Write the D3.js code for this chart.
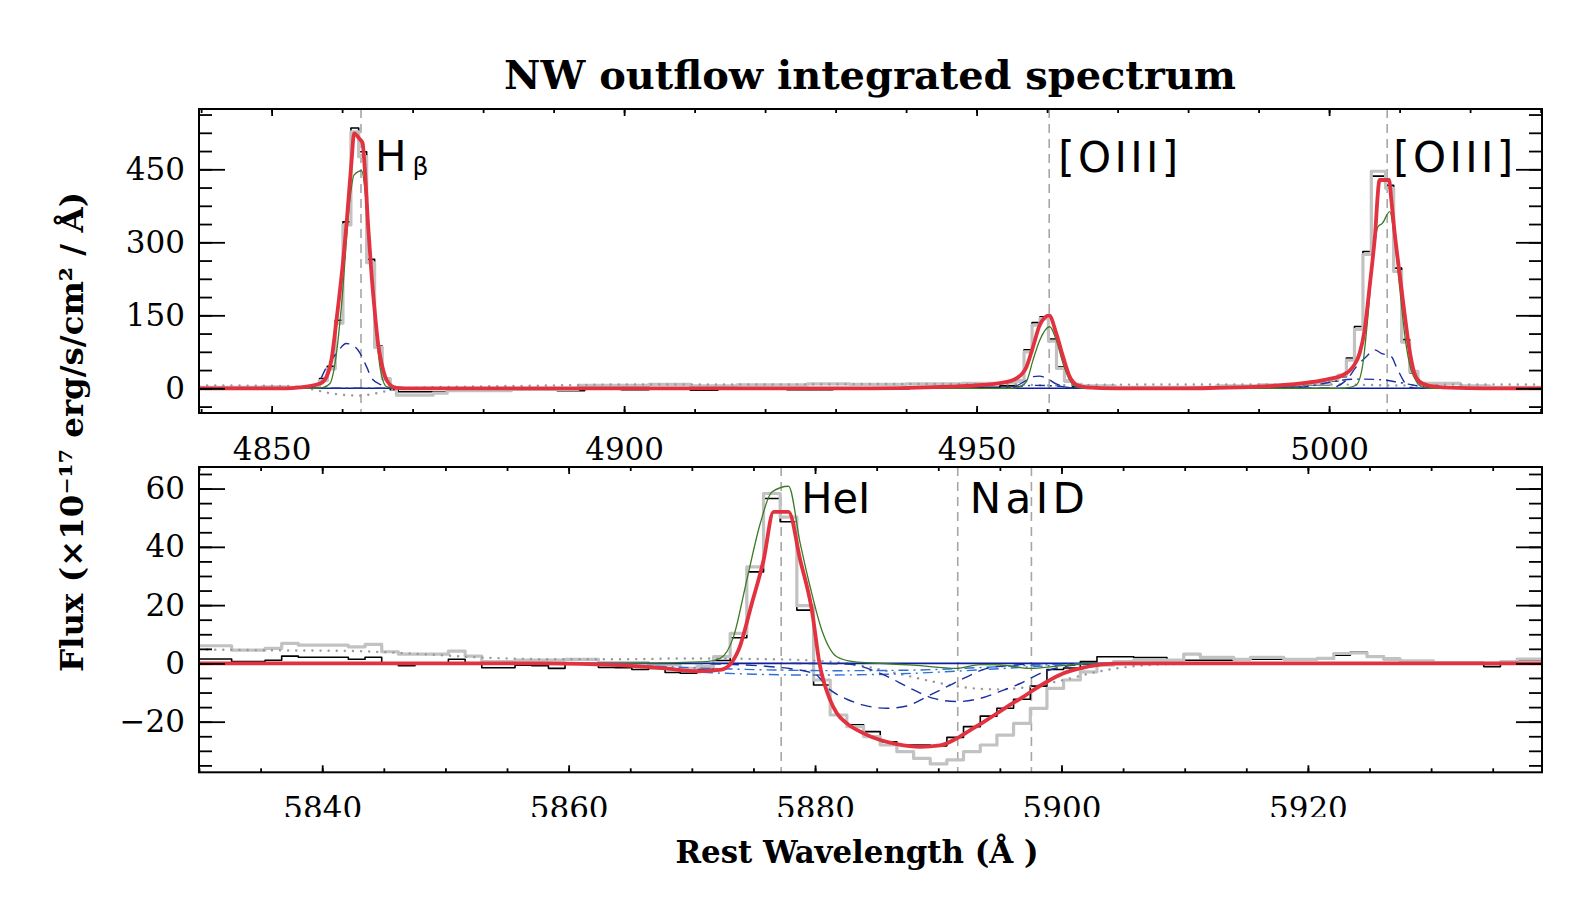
<!DOCTYPE html>
<html>
<head>
<meta charset="utf-8">
<script src="https://cdn.jsdelivr.net/npm/d3@7"></script>
<style>
  body { margin: 0; background: #fff; }
  .axis path { display: none; }
  .axis line { stroke: #000; stroke-width: 1.8; }
  .axis text { font-family: "DejaVu Serif", serif; font-size: 31px; fill: #000; }
  .lbl { font-family: "DejaVu Serif Condensed", "DejaVu Serif", serif; font-weight: bold; fill: #000; }
  .ann { font-family: "DejaVu Sans", sans-serif; font-size: 42px; fill: #000; }
</style>
</head>
<body>
<svg id="chart" width="1584" height="918"></svg>
<script>
// ---- tick labels ----
const topXTicks = [4850, 4900, 4950, 5000];
const topYTicks = [0, 150, 300, 450];
const botXTicks = [5840, 5860, 5880, 5900, 5920];
const botYTicks = [-20, 0, 20, 40, 60];

// ---- line markers (rest wavelength, A) ----
const topLines = [4862.68, 4960.30, 5008.24];
const topLineNames = ['H', '[OIII]', '[OIII]'];
const botLines = [5877.25, 5891.58, 5897.56];
const botLineNames = ['HeI', 'NaID', ''];

// ---- top panel: H-beta / [OIII] ----
// histograms: [left edge of bin, flux]
const topGray = [
  [4839.7, 2], [4848.5, 3], [4852.0, 2], [4855.7, 6], [4856.8, 16], [4857.9, 40],
  [4859.03, 134], [4860.12, 336], [4861.25, 527], [4862.35, 476], [4863.48, 258], [4864.61, 84],
  [4865.69, 20], [4866.83, 2], [4867.7, -14], [4872.9, -10], [4874.9, -5], [4884.0, -2],
  [4893.5, 6], [4903.5, 8], [4909.4, 5], [4916.0, 7], [4926.0, 9], [4932.0, 8], [4940.0, 9],
  [4948.0, 10], [4953.3, 11], [4955.6, 16], [4956.73, 75], [4957.87, 130], [4959.0, 143],
  [4960.19, 97], [4961.33, 41], [4962.46, 16], [4963.6, 8], [4964.9, 5], [4969.7, 2],
  [4984.0, 5], [4990.0, 7], [4996.0, 10], [5000.1, 18], [5001.26, 27], [5002.45, 58],
  [5003.6, 121], [5004.8, 275], [5005.99, 446], [5006.93, 446], [5008.02, 411], [5009.16, 240],
  [5010.29, 95], [5011.43, 35], [5012.6, 10], [5018.6, 5], [5022.8, 2], [5030.2, 2]
];
const topBlack = [
  [4839.7, 0], [4844.0, -1], [4848.5, 1], [4852.0, 0], [4855.7, 4], [4856.8, 20], [4857.9, 45],
  [4859.03, 140], [4860.12, 342], [4861.25, 535], [4862.35, 486], [4863.48, 265], [4864.61, 87],
  [4865.69, 18], [4866.83, -3], [4867.96, -7], [4874.9, -3], [4884.0, -1], [4890.5, -5],
  [4894.4, 0], [4899.6, -3], [4903.5, -1], [4909.4, -4], [4913.3, -1], [4923.1, -3],
  [4929.6, -1], [4940.5, 0], [4948.0, 2], [4953.3, 5], [4955.6, 14], [4956.73, 79],
  [4957.87, 135], [4959.0, 147], [4960.19, 101], [4961.33, 44], [4962.46, 14], [4963.6, 3],
  [4964.9, 1], [4969.7, -1], [4978.0, 0], [4984.0, 1], [4987.0, 3.5], [4996.0, 7.5],
  [5000.1, 15], [5001.26, 24], [5002.45, 62], [5003.6, 127], [5004.8, 281], [5005.99, 436],
  [5006.93, 436], [5008.02, 417], [5009.16, 247], [5010.29, 100], [5011.43, 32], [5012.6, 10],
  [5013.79, 3], [5018.6, 0], [5022.8, -1], [5030.2, -1]
];
// model curves: [wavelength, flux]
const topFit = [
  [4839.7, 0], [4852.0, 0], [4854.0, 2], [4856.9, 10], [4857.8, 24], [4858.5, 60], [4859.2, 140],
  [4860.2, 270], [4860.65, 342], [4861.35, 469], [4861.7, 524], [4862.5, 512], [4862.9, 504],
  [4863.2, 455], [4863.7, 332], [4864.2, 229], [4864.7, 147], [4865.1, 92], [4865.6, 51],
  [4866.1, 24], [4866.8, 7], [4867.7, 1], [4869.0, 0], [4935.0, 0], [4939.1, 0.5], [4946.2, 3.4],
  [4950.9, 6.8], [4953.75, 11.6], [4955.65, 20.5], [4957.07, 44], [4958.0, 85], [4958.96, 130],
  [4960.28, 150], [4961.3, 113], [4962.26, 65], [4963.2, 24], [4964.2, 7], [4965.6, 2],
  [4969.8, 0], [4980.0, 0], [4984.0, 1], [4991.0, 4], [4996.0, 10], [4999.6, 18], [5001.97, 27.4],
  [5003.4, 44.4], [5004.33, 71.8], [5005.04, 120], [5005.75, 209], [5006.46, 305], [5007.17, 428],
  [5008.5, 428], [5008.83, 387], [5009.3, 319], [5010.0, 236], [5010.7, 154], [5011.4, 79],
  [5012.1, 31], [5012.8, 14], [5014.2, 5], [5017.1, 1.4], [5022.0, 0], [5030.2, 0]
];
const topNarrow = [
  [4839.7, 0], [4856.0, 0], [4857.33, 2], [4858.28, 10], [4859.2, 72], [4859.9, 168],
  [4861.1, 387], [4861.68, 438], [4862.77, 447], [4863.2, 414], [4863.95, 264], [4864.65, 147],
  [4865.37, 44], [4866.3, 3.4], [4867.5, 0], [4955.0, 0], [4956.12, 3.4], [4957.07, 13.7],
  [4958.0, 58], [4958.96, 99], [4960.38, 126.5], [4961.3, 99], [4962.26, 51], [4963.2, 17],
  [4964.2, 2], [4965.5, 0], [5001.5, 0], [5002.92, 2], [5003.86, 6.8], [5004.8, 51], [5005.5, 147],
  [5006.2, 264], [5006.93, 332], [5007.55, 339], [5008.6, 363], [5009.3, 305], [5010.0, 209],
  [5010.7, 113], [5011.4, 51], [5012.4, 14], [5013.3, 2], [5014.5, 0], [5030.2, 0]
];
const topBroad = [
  [4839.7, 0], [4855.0, 0], [4856.4, 7], [4857.8, 44], [4859.2, 72], [4860.6, 92], [4862.06, 82],
  [4863.48, 44], [4864.2, 20.5], [4865.6, 6.8], [4866.8, 1], [4868.0, 0], [4954.0, 0],
  [4955.5, 4], [4956.8, 14], [4958.0, 24], [4958.9, 25], [4960.0, 20], [4961.3, 9], [4962.5, 3],
  [4964.0, 0], [5000.0, 0], [5001.03, 3.4], [5002.45, 17], [5003.86, 44], [5005.27, 65],
  [5006.46, 79], [5007.4, 72], [5008.83, 65], [5009.55, 44], [5010.5, 17], [5011.2, 3.4],
  [5012.5, 0], [5030.2, 0]
];
const topWing = [
  [4839.7, 0], [4950.0, 0], [4955.0, 2], [4958.0, 6], [4961.0, 5], [4964.0, 1], [4968.0, 0],
  [4992.0, 0], [4997.0, 4], [5001.0, 15], [5004.0, 19], [5007.0, 18], [5010.0, 12], [5013.0, 4],
  [5017.0, 1], [5022.0, 0], [5030.2, 0]
];
const topCont = [
  [4839.7, 6], [4852.0, 5], [4855.4, -1], [4858.3, -10], [4860.6, -14], [4862.5, -15],
  [4864.9, -10], [4866.8, -4], [4868.6, 0], [4872.0, 2], [4880.0, 4], [4890.0, 6], [4900.0, 8],
  [4920.0, 8], [4940.0, 9], [4955.0, 8], [4960.0, 6], [4965.0, 7], [4980.0, 8], [5000.0, 8],
  [5010.0, 6], [5020.0, 8], [5030.2, 8]
];

// ---- bottom panel: HeI / NaID ----
const botGray = [
  [5830.0, 6.05], [5832.65, 4.57], [5835.36, 5.14], [5836.71, 6.86], [5838.06, 6.3],
  [5842.12, 5.7], [5843.48, 6.5], [5844.83, 4.0], [5846.18, 3.2], [5850.24, 4.2], [5851.6, 2.5],
  [5852.95, 0.6], [5855.65, 1.1], [5859.71, 1.4], [5862.42, 0.3], [5866.48, -0.5],
  [5869.05, -1.7], [5870.4, -1.1], [5871.76, 2.3], [5873.11, 10.3], [5874.46, 33.1],
  [5875.82, 58.3], [5877.17, 50.2], [5878.52, 19.8], [5879.88, -5.7], [5881.23, -17.7],
  [5882.58, -21.7], [5883.94, -25.1], [5885.29, -28], [5886.64, -30.3], [5888.0, -32.6],
  [5889.35, -34.5], [5890.7, -33.1], [5892.05, -30.3], [5893.41, -28], [5894.76, -24.6],
  [5896.11, -20.6], [5897.47, -15.4], [5898.82, -8.6], [5900.17, -5.7], [5901.53, -2.9],
  [5902.88, -0.6], [5904.23, 0.6], [5905.86, 1.1], [5909.92, 3.2], [5911.27, 2.05],
  [5913.98, 1.4], [5915.33, 2.05], [5918.04, 1.4], [5920.74, 1.7], [5922.1, 3.4], [5923.45, 3.6],
  [5924.8, 2.3], [5926.15, 1.4], [5927.5, 0.9], [5930.2, 0.3], [5932.92, 0], [5935.63, 0.6],
  [5936.98, 1.5], [5939.0, 1.5]
];
const botBlack = [
  [5830.0, 1.5], [5832.65, 0.6], [5835.36, 1.1], [5836.71, 2.5], [5838.06, 2.1], [5842.12, 1.4],
  [5843.48, 2.1], [5844.83, 0.2], [5846.18, -0.8], [5847.53, 0.2], [5850.24, 1.4], [5851.6, 0.2],
  [5852.95, -1.5], [5855.65, -0.6], [5857.0, -0.8], [5858.36, -1.7], [5859.71, -0.2],
  [5862.42, -1.4], [5863.77, -1.5], [5865.13, -2.1], [5866.48, -1.7], [5867.83, -3.1],
  [5869.05, -3.4], [5870.4, -2.0], [5871.76, 1.0], [5873.11, 8.8], [5874.46, 31.4],
  [5875.82, 56.6], [5877.17, 48.6], [5878.52, 18.3], [5879.88, -7.4], [5881.23, -17.7],
  [5882.58, -21.1], [5883.94, -23.4], [5885.29, -26.9], [5886.64, -28], [5888.0, -28],
  [5889.35, -28.3], [5890.7, -25.4], [5892.05, -21.7], [5893.41, -18.1], [5894.76, -15.4],
  [5896.11, -12.3], [5897.47, -7.8], [5898.82, -2.1], [5900.17, -1.6], [5901.53, 0.6],
  [5902.88, 2.3], [5905.86, 2.05], [5908.56, 1.1], [5913.98, 1.4], [5922.1, 2.85],
  [5923.45, 3.9], [5924.8, 2.5], [5926.15, 1.7], [5927.5, 0.9], [5930.2, 0.3], [5934.27, -1.1],
  [5935.63, 0.3], [5936.98, 1.1], [5939.0, 1.1]
];
const botFit = [
  [5830.0, 0], [5858.0, 0], [5864.07, -0.6], [5867.8, -1.7], [5870.4, -2.7], [5872.43, -2.1],
  [5873.79, 4.6], [5874.87, 20.6], [5875.82, 35.4], [5876.63, 52], [5877.85, 52], [5878.8, 35.4],
  [5879.74, 18.3], [5880.36, 0], [5881.23, -12.6], [5881.77, -17.1], [5882.58, -20.6],
  [5883.94, -24], [5885.29, -26.3], [5886.64, -27.7], [5888.54, -28.6], [5890.16, -28.1],
  [5891.51, -25.7], [5892.6, -22.9], [5893.95, -19.4], [5895.57, -14.9], [5896.93, -11.4],
  [5897.74, -9.1], [5898.82, -6.3], [5900.17, -3.4], [5901.53, -1.7], [5902.88, -0.6],
  [5904.23, -0.1], [5910.0, 0], [5939.0, 0]
];
const botNarrow = [
  [5830.0, 0], [5865.0, 0], [5871.2, 0.6], [5872.3, 1.7], [5873.38, 9.1], [5874.46, 28.6],
  [5875.55, 48], [5876.49, 58.8], [5877.85, 60.8], [5878.8, 41.1], [5879.6, 26.3],
  [5880.55, 11.4], [5881.77, 2.3], [5883.12, 0.6], [5885.29, 0], [5888.0, -0.6], [5891.51, -1.7],
  [5893.41, -0.4], [5895.0, -0.5], [5897.5, -1.7], [5899.5, -1.0], [5901.5, -0.2], [5903.0, 0],
  [5939.0, 0]
];
const botAbsBlue = [
  [5870.0, 0], [5876.0, -1], [5879.88, -3.4], [5881.23, -9.1], [5882.58, -12.3],
  [5883.94, -14.3], [5885.83, -15.4], [5887.45, -14.6], [5889.08, -11.4], [5890.7, -8],
  [5892.33, -4.6], [5893.95, -1.7], [5896.11, -0.6], [5899.0, 0]
];
const botAbsRed = [
  [5878.0, 0], [5882.58, -0.2], [5885.29, -3.4], [5888.0, -9.1], [5889.62, -12], [5891.51, -13.1],
  [5893.41, -12], [5895.03, -9.6], [5896.65, -6.9], [5898.28, -3.4], [5900.17, -1.1],
  [5902.88, -0.2], [5906.0, 0]
];
const botWide1 = [
  [5860.0, 0], [5866.0, -0.8], [5870.0, -1.5], [5876.0, -2.2], [5882.0, -2.5], [5888.0, -2.3],
  [5893.0, -1.5], [5898.0, -0.6], [5903.0, 0]
];
const botWide2 = [
  [5862.0, 0], [5866.0, -1.2], [5870.0, -2.8], [5875.0, -3.7], [5880.0, -4], [5885.0, -3.8],
  [5890.0, -3], [5895.0, -1.8], [5900.0, -0.6], [5905.0, 0]
];
const botCont = [
  [5830.0, 4.8], [5836.0, 4.5], [5842.0, 4.3], [5848.0, 3.2], [5853.0, 2], [5860.0, 1.4],
  [5866.0, 1.5], [5869.0, 1.7], [5877.0, 1.4], [5882.6, 0], [5886.64, -3.4], [5889.62, -6.3],
  [5892.05, -8.2], [5894.76, -8.9], [5897.47, -8], [5900.17, -5.7], [5902.88, -2.9],
  [5905.59, -1.1], [5909.65, -0.2], [5915.0, 0], [5939.0, 0]
];

// ---- styles ----
const style = {
  gray:   { stroke: '#c2c2c2', width: 3.2 },
  cont:   { stroke: '#9a9a9a', width: 2.4, dash: '0.1,8', cap: 'round' },
  black:  { stroke: '#000', width: 1.6 },
  zero:   { stroke: '#0c1f9c', width: 1.6 },
  wing:   { stroke: '#1a2fa0', width: 1.4, dash: '10,5,2,5' },
  wideB:  { stroke: '#2f6fd6', width: 1.4, dash: '10,5,2,5' },
  broad:  { stroke: '#1a2fa0', width: 1.4, dash: '11,7' },
  narrow: { stroke: '#3c7a26', width: 1.3 },
  fit:    { stroke: '#e2323f', width: 3.8 }
};

const svg = d3.select('#chart');
svg.append('rect').attr('width', 1584).attr('height', 918).attr('fill', '#fff');
const defs = svg.append('defs');

const L = 199, R = 1542;

const panels = [
  {
    id: 'top', top: 109, bottom: 413, xDomain: [4839.7, 5030.2], yDomain: [-50.7, 573.9],
    xTicks: topXTicks, xMinor: d3.range(4840, 5031, 10), yTicks: topYTicks, yMinor: d3.range(-37.5, 570, 37.5),
    lines: topLines,
    series: [
      [topBlack, 'step', 'black'], [topGray, 'step', 'gray'], [topCont, 'curve', 'cont'],
      [[[4839.7, 0], [5030.2, 0]], 'curve', 'zero'], [topWing, 'curve', 'wing'],
      [topBroad, 'curve', 'broad'], [topNarrow, 'curve', 'narrow'], [topFit, 'curve', 'fit']
    ]
  },
  {
    id: 'bot', top: 467, bottom: 772.3, xDomain: [5830, 5939], yDomain: [-37.37, 67.4],
    xTicks: botXTicks, xMinor: d3.range(5830, 5940, 5), yTicks: botYTicks, yMinor: d3.range(-35, 67, 5),
    lines: botLines, clipLabels: 817,
    series: [
      [botBlack, 'step', 'black'], [botGray, 'step', 'gray'], [botCont, 'curve', 'cont'],
      [[[5830, 0], [5939, 0]], 'curve', 'zero'], [botWide1, 'curve', 'wideB'], [botWide2, 'curve', 'wideB'],
      [botAbsBlue, 'curve', 'broad'], [botAbsRed, 'curve', 'broad'], [botNarrow, 'curve', 'narrow'],
      [botFit, 'curve', 'fit']
    ]
  }
];

panels.forEach(p => {
  const x = d3.scaleLinear().domain(p.xDomain).range([L, R]);
  const y = d3.scaleLinear().domain(p.yDomain).range([p.bottom, p.top]);

  defs.append('clipPath').attr('id', 'clip-' + p.id)
    .append('rect').attr('x', L).attr('y', p.top).attr('width', R - L).attr('height', p.bottom - p.top);
  const plot = svg.append('g').attr('clip-path', `url(#clip-${p.id})`);

  // marker lines
  plot.selectAll('line.mark').data(p.lines).join('line')
    .attr('x1', d => x(d)).attr('x2', d => x(d))
    .attr('y1', p.top).attr('y2', p.bottom)
    .attr('stroke', '#a6a6a6').attr('stroke-width', 1.6).attr('stroke-dasharray', '9,6');

  const stepLine = d3.line().x(d => x(d[0])).y(d => y(d[1])).curve(d3.curveStepAfter);
  const curveLine = d3.line().x(d => x(d[0])).y(d => y(d[1])).curve(d3.curveMonotoneX);

  p.series.forEach(([data, kind, key]) => {
    const s = style[key];
    plot.append('path')
      .attr('d', (kind === 'step' ? stepLine : curveLine)(data))
      .attr('fill', 'none')
      .attr('stroke', s.stroke)
      .attr('stroke-width', s.width)
      .attr('stroke-dasharray', s.dash || null)
      .attr('stroke-linecap', s.cap || 'butt')
      .attr('stroke-linejoin', 'round');
  });

  // axes: inward ticks on all four sides, labels on bottom and left
  const tickFmt = d3.format('d');
  const addAxis = (axis, transform, clip) => {
    const outer = svg.append('g');
    if (clip) outer.attr('clip-path', `url(#${clip})`);
    return outer.append('g').attr('class', 'axis').attr('transform', transform).call(axis);
  };
  let labelClip = null;
  if (p.clipLabels) {
    labelClip = 'lblclip-' + p.id;
    defs.append('clipPath').attr('id', labelClip)
      .append('rect').attr('x', 0).attr('y', 0).attr('width', 1584).attr('height', p.clipLabels);
  }
  addAxis(d3.axisBottom(x).tickValues(p.xMinor).tickSize(-4).tickFormat(''), `translate(0,${p.bottom})`);
  addAxis(d3.axisBottom(x).tickValues(p.xTicks).tickSize(-7).tickPadding(25).tickFormat(tickFmt),
    `translate(0,${p.bottom})`, labelClip);
  addAxis(d3.axisTop(x).tickValues(p.xMinor).tickSize(-4).tickFormat(''), `translate(0,${p.top})`);
  addAxis(d3.axisTop(x).tickValues(p.xTicks).tickSize(-7).tickFormat(''), `translate(0,${p.top})`);
  addAxis(d3.axisLeft(y).tickValues(p.yMinor).tickSize(-13).tickFormat(''), `translate(${L},0)`);
  addAxis(d3.axisLeft(y).tickValues(p.yTicks).tickSize(-26).tickPadding(14).tickFormat(tickFmt), `translate(${L},0)`);
  addAxis(d3.axisRight(y).tickValues(p.yMinor).tickSize(-13).tickFormat(''), `translate(${R},0)`);
  addAxis(d3.axisRight(y).tickValues(p.yTicks).tickSize(-26).tickFormat(''), `translate(${R},0)`);

  svg.append('rect').attr('x', L).attr('y', p.top).attr('width', R - L).attr('height', p.bottom - p.top)
    .attr('fill', 'none').attr('stroke', '#000').attr('stroke-width', 2);

  p.x = x; p.y = y;
});

// ---- line annotations ----
const [pt, pb] = panels;
const hb = svg.append('text').attr('class', 'ann').attr('x', pt.x(topLines[0]) + 14).attr('y', 171);
hb.append('tspan').text(topLineNames[0]);
hb.append('tspan').attr('font-size', 25).attr('dx', 6).attr('dy', 4).text('β');
svg.append('text').attr('class', 'ann').attr('x', pt.x(topLines[1]) + 9).attr('y', 172)
  .attr('textLength', 120).attr('lengthAdjust', 'spacing').text(topLineNames[1]);
svg.append('text').attr('class', 'ann').attr('x', pt.x(topLines[2]) + 6).attr('y', 172)
  .attr('textLength', 120).attr('lengthAdjust', 'spacing').text(topLineNames[2]);
svg.append('text').attr('class', 'ann').attr('x', pb.x(botLines[0]) + 20).attr('y', 513)
  .attr('textLength', 69).attr('lengthAdjust', 'spacingAndGlyphs').text(botLineNames[0]);
svg.append('text').attr('class', 'ann').attr('x', pb.x(botLines[1]) + 12).attr('y', 513)
  .attr('textLength', 115).attr('lengthAdjust', 'spacing').text(botLineNames[1]);

// ---- titles ----
svg.append('text').attr('class', 'lbl').attr('x', 870).attr('y', 89).attr('text-anchor', 'middle')
  .attr('font-size', 39).attr('textLength', 732).attr('lengthAdjust', 'spacingAndGlyphs')
  .text('NW outflow integrated spectrum');
svg.append('text').attr('class', 'lbl').attr('x', 857).attr('y', 863).attr('text-anchor', 'middle')
  .attr('font-size', 32).attr('textLength', 363).attr('lengthAdjust', 'spacingAndGlyphs')
  .text('Rest Wavelength (Å )');
svg.append('text').attr('class', 'lbl').attr('transform', 'translate(83,432) rotate(-90)')
  .attr('text-anchor', 'middle').attr('font-size', 32).attr('textLength', 480)
  .attr('lengthAdjust', 'spacingAndGlyphs')
  .text('Flux (×10⁻¹⁷ erg/s/cm² / Å)');
</script>
</body>
</html>
